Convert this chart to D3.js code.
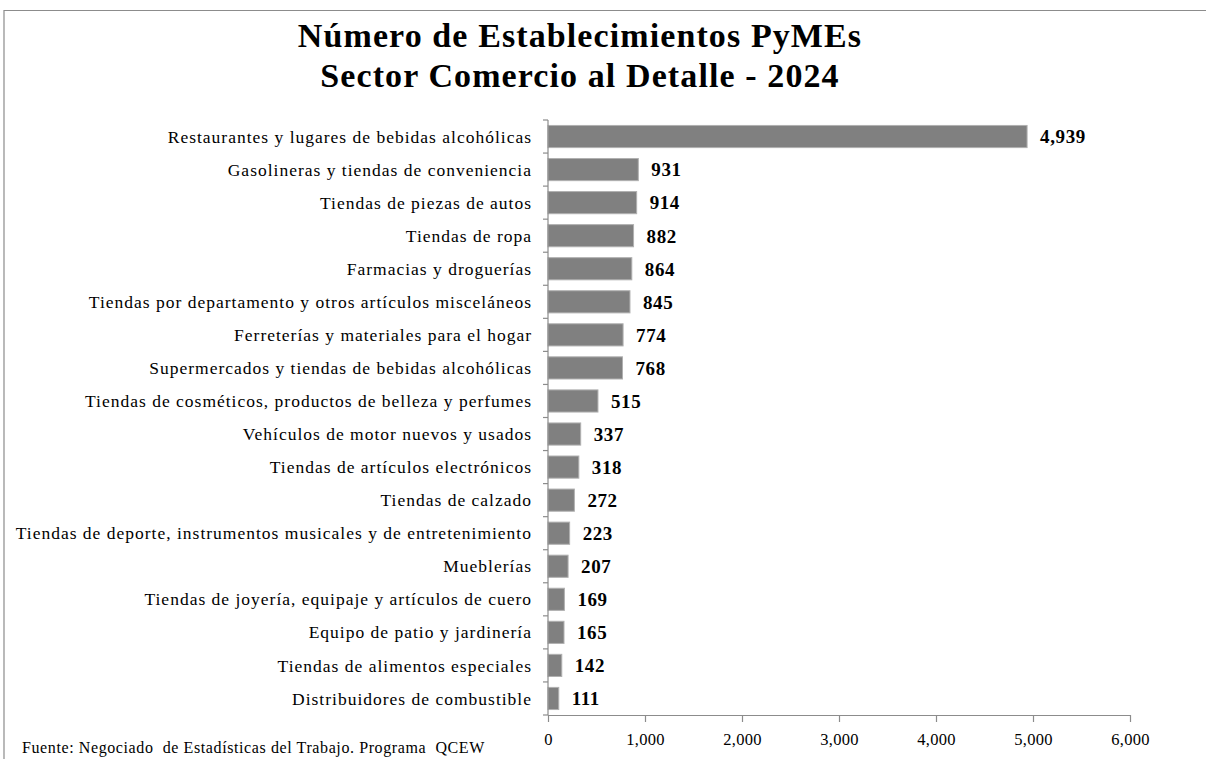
<!DOCTYPE html>
<html>
<head>
<meta charset="utf-8">
<script src="https://cdn.jsdelivr.net/npm/d3@7"></script>
<style>
  body { margin: 0; background: #fff; }
  text { font-family: "Liberation Serif", "Times New Roman", serif; }
</style>
</head>
<body>
<div id="chart"></div>
<script>
// categories and values, top to bottom
const categories = [
    'Restaurantes y lugares de bebidas alcohólicas',
    'Gasolineras y tiendas de conveniencia',
    'Tiendas de piezas de autos',
    'Tiendas de ropa',
    'Farmacias y droguerías',
    'Tiendas por departamento y otros artículos misceláneos',
    'Ferreterías y materiales para el hogar',
    'Supermercados y tiendas de bebidas alcohólicas',
    'Tiendas de cosméticos, productos de belleza y perfumes',
    'Vehículos de motor nuevos y usados',
    'Tiendas de artículos electrónicos',
    'Tiendas de calzado',
    'Tiendas de deporte, instrumentos musicales y de entretenimiento',
    'Mueblerías',
    'Tiendas de joyería, equipaje y artículos de cuero',
    'Equipo de patio y jardinería',
    'Tiendas de alimentos especiales',
    'Distribuidores de combustible'
];
const values = [4939, 931, 914, 882, 864, 845, 774, 768, 515, 337, 318, 272, 223, 207, 169, 165, 142, 111];
const xTicks = [0, 1000, 2000, 3000, 4000, 5000, 6000];
const titleLines = ['Número de Establecimientos PyMEs', 'Sector Comercio al Detalle - 2024'];
const source = 'Fuente: Negociado  de Estadísticas del Trabajo. Programa  QCEW';

const W = 1206, H = 759;
const margin = { top: 120, right: 76, bottom: 44, left: 548 };

const svg = d3.select('#chart').append('svg')
    .attr('width', W)
    .attr('height', H);

// outer frame (only top and left edges visible)
svg.append('path')
    .attr('d', `M4,${H} L4,10.5 L${W},10.5`)
    .attr('fill', 'none')
    .attr('stroke', '#8c8c8c')
    .attr('stroke-width', 1.2);

// title
svg.append('g').selectAll('text')
    .data(titleLines)
    .join('text')
    .attr('x', 580)
    .attr('y', (d, i) => 47 + i * 40)
    .attr('text-anchor', 'middle')
    .attr('font-size', 34)
    .attr('font-weight', 'bold')
    .attr('letter-spacing', 1.1)
    .attr('fill', '#000')
    .text(d => d);

const data = categories.map((c, i) => ({ category: c, value: values[i] }));

const xScale = d3.scaleLinear()
    .domain([0, 6000])
    .range([margin.left, W - margin.right]);
const yScale = d3.scaleBand()
    .domain(categories)
    .range([margin.top, H - margin.bottom])
    .paddingInner(0.33)
    .paddingOuter(0.165);

// bars
svg.append('g').selectAll('rect')
    .data(data)
    .join('rect')
    .attr('x', xScale(0))
    .attr('y', d => yScale(d.category))
    .attr('width', d => xScale(d.value) - xScale(0))
    .attr('height', yScale.bandwidth())
    .attr('fill', '#808080')
    .attr('stroke', '#b0b0b0')
    .attr('stroke-width', 1);

// value labels
svg.append('g').selectAll('text')
    .data(data)
    .join('text')
    .attr('x', d => xScale(d.value) + 13)
    .attr('y', d => yScale(d.category) + yScale.bandwidth() / 2)
    .attr('dy', '0.36em')
    .attr('font-size', 19)
    .attr('font-weight', 'bold')
    .attr('letter-spacing', 0.6)
    .attr('fill', '#000')
    .text(d => d3.format(',')(d.value));

// y axis: line and ticks at band boundaries
const yAxisG = svg.append('g').attr('stroke', '#8c8c8c').attr('stroke-width', 1.2);
const yTop = margin.top, yBot = H - margin.bottom;
yAxisG.append('line')
    .attr('x1', xScale(0)).attr('x2', xScale(0))
    .attr('y1', yTop).attr('y2', yBot);
d3.range(categories.length + 1).forEach(i => {
    const y = yTop + i * (yBot - yTop) / categories.length;
    yAxisG.append('line')
        .attr('x1', xScale(0) - 5).attr('x2', xScale(0))
        .attr('y1', y).attr('y2', y);
});

// category labels
svg.append('g').selectAll('text')
    .data(categories)
    .join('text')
    .attr('x', 532)
    .attr('y', d => yScale(d) + yScale.bandwidth() / 2)
    .attr('dy', '0.35em')
    .attr('text-anchor', 'end')
    .attr('font-size', 17.5)
    .attr('letter-spacing', 1)
    .attr('fill', '#000')
    .text(d => d);

// x axis
const xAxis = d3.axisBottom(xScale)
    .tickValues(xTicks)
    .tickSize(7)
    .tickSizeOuter(0)
    .tickFormat(d3.format(','));
const xAxisG = svg.append('g')
    .attr('transform', `translate(0, ${yBot})`)
    .call(xAxis);
xAxisG.selectAll('path, line')
    .attr('stroke', '#8c8c8c')
    .attr('stroke-width', 1.2);
xAxisG.selectAll('text')
    .attr('font-family', '"Liberation Serif", serif')
    .attr('font-size', 16.5)
    .attr('letter-spacing', 0.3)
    .attr('fill', '#000')
    .attr('y', 18);

// source note
svg.append('text')
    .attr('x', 22)
    .attr('y', 753)
    .attr('font-size', 16)
    .attr('letter-spacing', 0.6)
    .attr('fill', '#000')
    .style('white-space', 'pre')
    .text(source);
</script>
</body>
</html>
